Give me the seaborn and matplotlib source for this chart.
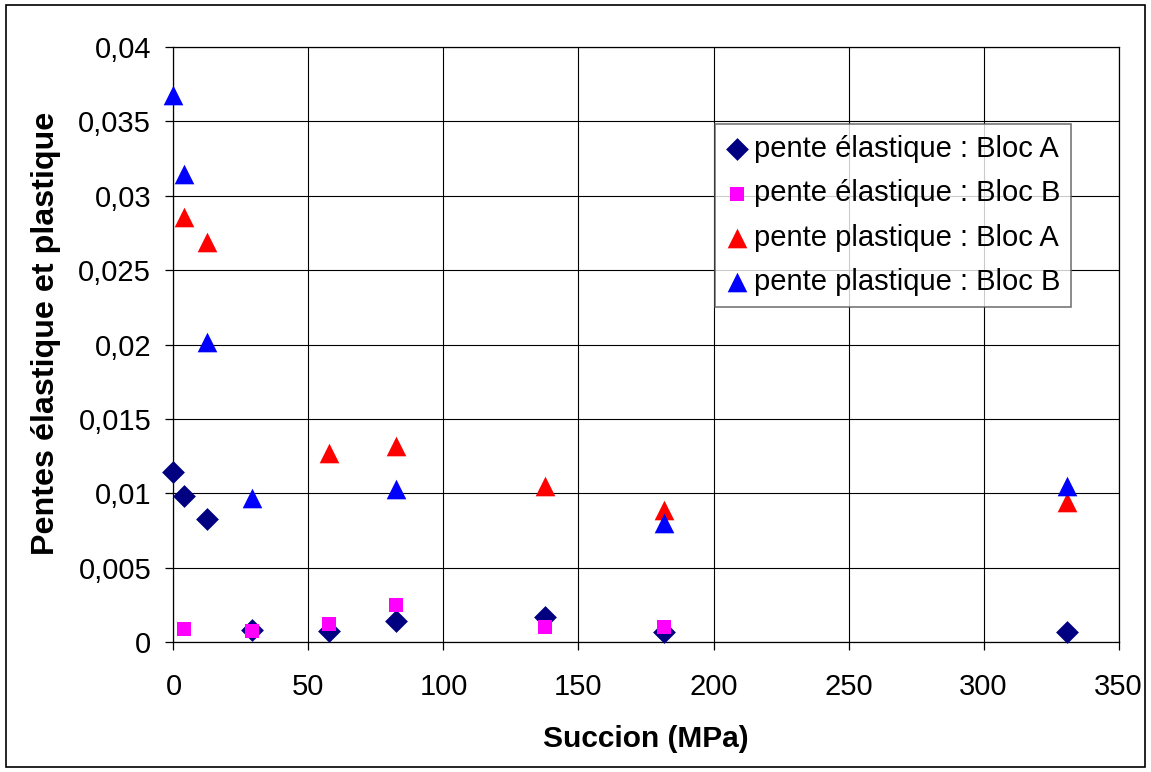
import matplotlib
matplotlib.use("Agg")
import matplotlib.pyplot as plt
import matplotlib.patches as mpatches
from matplotlib.ticker import FuncFormatter, MultipleLocator
import seaborn as sns
import pandas as pd

# Succion (MPa) and slope values per series
succion_ela_a = [0, 4, 12.5, 29, 57.5, 82.5, 137.5, 181.5, 331]
pente_ela_a = [0.0114, 0.0098, 0.0083, 0.0008, 0.00076, 0.0014, 0.0017, 0.00067, 0.00067]

succion_ela_b = [4, 29, 57.5, 82.5, 137.5, 181.5]
pente_ela_b = [0.00085, 0.00072, 0.0012, 0.0025, 0.001, 0.001]

succion_pla_a = [4, 12.5, 57.5, 82.5, 137.5, 181.5, 331]
pente_pla_a = [0.0286, 0.0269, 0.0127, 0.0132, 0.0105, 0.0089, 0.0094]

succion_pla_b = [0, 4, 12.5, 29, 82.5, 181.5, 331]
pente_pla_b = [0.0368, 0.0315, 0.0202, 0.0097, 0.0103, 0.0080, 0.0105]

series_labels = [
    "pente élastique : Bloc A",
    "pente élastique : Bloc B",
    "pente plastique : Bloc A",
    "pente plastique : Bloc B",
]

sns.set_theme(style="white", rc={
    "text.color": "black",
    "axes.labelcolor": "black",
    "xtick.color": "black",
    "ytick.color": "black",
})
plt.rcParams["font.family"] = ["Liberation Sans", "DejaVu Sans"]

fig = plt.figure(figsize=(11.51, 7.72), dpi=100)
ax = fig.add_axes([0.1507, 0.1684, 0.8211, 0.7706])

styles = [
    (succion_ela_a, pente_ela_a, "D", "#000080", 135),
    (succion_ela_b, pente_ela_b, "s", "#FF00FF", 100),
    (succion_pla_a, pente_pla_a, "^", "#FF0000", 200),
    (succion_pla_b, pente_pla_b, "^", "#0000FF", 200),
]

for (xs, ys, mk, col, size), lab in zip(styles, series_labels):
    df = pd.DataFrame({"Succion": xs, "Pente": ys})
    sns.scatterplot(data=df, x="Succion", y="Pente", ax=ax, marker=mk,
                    color=col, s=size, linewidth=0, label=lab,
                    clip_on=False, zorder=3)

ax.set_xlim(0, 350)
ax.set_ylim(0, 0.04)
ax.xaxis.set_major_locator(MultipleLocator(50))
ax.yaxis.set_major_locator(MultipleLocator(0.005))

def comma_fmt(v, pos):
    s = f"{v:.3f}".rstrip("0").rstrip(".")
    return s.replace(".", ",")

ax.yaxis.set_major_formatter(FuncFormatter(comma_fmt))
ax.grid(True, color="black", linewidth=0.8)
ax.set_axisbelow(True)
for sp in ax.spines.values():
    sp.set_color("black")
    sp.set_linewidth(0.9)

ax.tick_params(axis="both", which="major", labelsize=21, direction="out",
               length=6, width=0.9, color="black", labelcolor="black",
               left=True, bottom=True)
ax.tick_params(axis="x", pad=16)
ax.tick_params(axis="y", pad=10)

ax.set_xlabel("Succion (MPa)", fontsize=21.5, fontweight="bold", color="black")
ax.set_ylabel("Pentes élastique et plastique", fontsize=23.2,
              fontweight="bold", color="black")
ax.xaxis.set_label_coords(0.5, -0.139)
ax.yaxis.set_label_coords(-0.119, 0.519)

leg = ax.legend(loc="upper left", bbox_to_anchor=(0.573, 0.871), fontsize=21,
                frameon=True, fancybox=False, labelspacing=0.56,
                handletextpad=0.2, handlelength=0.75, borderpad=0.38,
                borderaxespad=0)
leg.get_frame().set_edgecolor("#555555")
leg.get_frame().set_linewidth(1.2)
for t in leg.get_texts():
    t.set_color("black")

# outer frame around the whole chart area
fig.patches.append(mpatches.Rectangle((0.005, 0.006), 0.99, 0.988,
                                      transform=fig.transFigure, fill=False,
                                      edgecolor="black", linewidth=1.2))

fig.savefig("out.png", dpi=100)
